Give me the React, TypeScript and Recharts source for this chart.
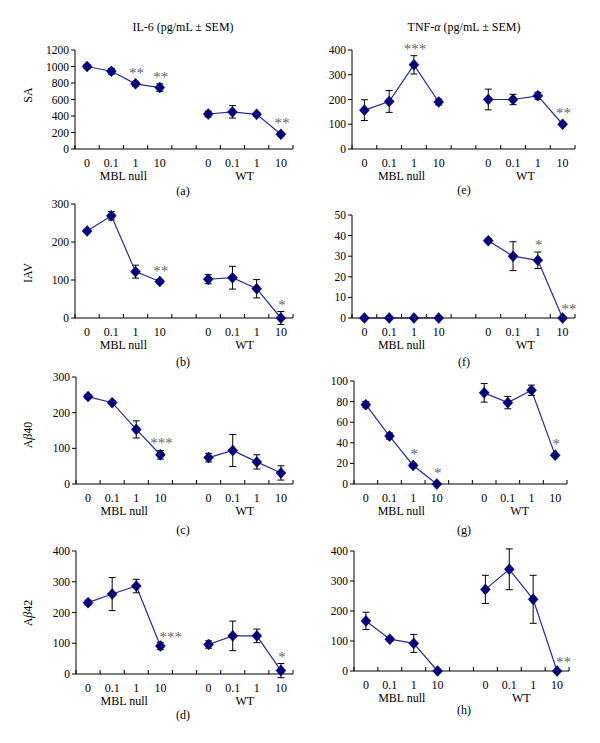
import React from 'react';
import { LineChart, Line, XAxis, YAxis, ReferenceLine } from 'recharts';

const FONT = '"Liberation Serif", "Times New Roman", serif';

// categories
const doses = ['0', '0.1', '1', '10'];
const groups = ['MBL null', 'WT'];
const panelLetters = ['(a)', '(b)', '(c)', '(d)', '(e)', '(f)', '(g)', '(h)'];

// IL-6 panels (pg/mL): MBL null 0,0.1,1,10 then WT 0,0.1,1,10
const il6SA = [1000, 942, 790, 745, 424, 450, 420, 178];
const il6SAErr = [25, 35, 30, 45, 35, 75, 20, 20];
const il6SASig = ['', '', '**', '**', '', '', '', '**'];

const il6IAV = [229, 269, 122, 96, 102, 106, 77, 0];
const il6IAVErr = [5, 11, 17, 5, 12, 30, 24, 17];
const il6IAVSig = ['', '', '', '**', '', '', '', '*'];

const il6Ab40 = [245, 228, 153, 82, 74, 94, 62, 31];
const il6Ab40Err = [6, 5, 24, 12, 12, 45, 20, 20];
const il6Ab40Sig = ['', '', '', '***', '', '', '', ''];

const il6Ab42 = [232, 260, 286, 91, 96, 124, 124, 11];
const il6Ab42Err = [8, 54, 22, 12, 12, 48, 22, 23];
const il6Ab42Sig = ['', '', '', '***', '', '', '', '*'];

// TNF-alpha panels
const tnfSA = [157, 192, 340, 190, 200, 200, 215, 100];
const tnfSAErr = [42, 44, 37, 12, 42, 21, 14, 6];
const tnfSASig = ['', '', '***', '', '', '', '', '**'];

const tnfIAV = [0, 0, 0, 0, 37.5, 30, 28, 0];
const tnfIAVErr = [0, 0, 0, 0, 1, 7, 4, 0];
const tnfIAVSig = ['', '', '', '', '', '', '*', '**'];

const tnfAb40 = [77, 46.5, 18, 0, 88.5, 79, 91, 28];
const tnfAb40Err = [3, 3, 2, 0, 9, 6, 5, 1];
const tnfAb40Sig = ['', '', '*', '*', '', '', '', '*'];

const tnfAb42 = [167, 106, 92, 0, 272, 339, 239, 0];
const tnfAb42Err = [29, 6, 30, 0, 47, 68, 80, 0];
const tnfAb42Sig = ['', '', '', '', '', '', '', '**'];

// panel layout (pixel boxes of plot areas)
const layout = [
  { values: il6SA, errs: il6SAErr, sigs: il6SASig, sigRight: [] as number[], left: 75, right: 293, top: 50, bottom: 149, yMax: 1200, yStep: 200, letterY: 191 },
  { values: il6IAV, errs: il6IAVErr, sigs: il6IAVSig, sigRight: [] as number[], left: 75, right: 293, top: 204, bottom: 318, yMax: 300, yStep: 100, letterY: 362 },
  { values: il6Ab40, errs: il6Ab40Err, sigs: il6Ab40Sig, sigRight: [] as number[], left: 76, right: 293, top: 377, bottom: 484, yMax: 300, yStep: 100, letterY: 530 },
  { values: il6Ab42, errs: il6Ab42Err, sigs: il6Ab42Sig, sigRight: [3], left: 76, right: 293, top: 551, bottom: 674, yMax: 400, yStep: 100, letterY: 715 },
  { values: tnfSA, errs: tnfSAErr, sigs: tnfSASig, sigRight: [] as number[], left: 352, right: 575, top: 50, bottom: 149, yMax: 400, yStep: 100, letterY: 190 },
  { values: tnfIAV, errs: tnfIAVErr, sigs: tnfIAVSig, sigRight: [7], left: 352, right: 575, top: 215, bottom: 318, yMax: 50, yStep: 10, letterY: 362 },
  { values: tnfAb40, errs: tnfAb40Err, sigs: tnfAb40Sig, sigRight: [] as number[], left: 354, right: 567, top: 381, bottom: 484, yMax: 100, yStep: 20, letterY: 530 },
  { values: tnfAb42, errs: tnfAb42Err, sigs: tnfAb42Sig, sigRight: [7], left: 354, right: 569, top: 551, bottom: 671, yMax: 400, yStep: 100, letterY: 710 },
];

const boundaryTicks = [0, 1, 2, 3, 4, 5, 6, 7, 8, 9];
const doseTicks = [0.5, 1.5, 2.5, 3.5, 5.5, 6.5, 7.5, 8.5];
const groupTicks = [2, 7];

function buildRows(values: number[], errs: number[], sigs: string[]) {
  const rows: any[] = [];
  for (let i = 0; i < 4; i++) rows.push({ x: i + 0.5, v: values[i], err: errs[i], sig: sigs[i], idx: i });
  rows.push({ x: 4.5, v: null, err: null, sig: '', idx: -1 });
  for (let i = 4; i < 8; i++) rows.push({ x: i + 1.5, v: values[i], err: errs[i], sig: sigs[i], idx: i });
  return rows;
}

function Panel(props: any) {
  const { values, errs, sigs, sigRight, left, right, top, bottom, yMax, yStep } = props;
  const data = buildRows(values, errs, sigs);
  const plotW = right - left;
  const plotH = bottom - top;
  const ML = 50, MT = 10, MR = 14, MB = 45;
  const W = ML + plotW + MR;
  const H = MT + plotH + 3 + MB;
  const yTicks: number[] = [];
  for (let t = 0; t <= yMax + 1e-9; t += yStep) yTicks.push(t);

  // pixel sizes converted to data units so that the library scales place them
  const capHalf = 3.5 / (plotW / 9);
  const tickLen = (4 * yMax) / plotH;

  const renderDot = (p: any) => {
    const { cx, cy, payload, index } = p;
    if (cx == null || cy == null || payload == null || payload.v == null) return <g key={`d${index}`} />;
    const pts = `${cx},${cy - 5.5} ${cx + 5},${cy} ${cx},${cy + 5.5} ${cx - 5},${cy}`;
    let star: any = null;
    if (payload.sig) {
      const isRight = sigRight.indexOf(payload.idx) >= 0;
      if (isRight) {
        star = (
          <text x={cx - 1} y={cy - 11 + 7} textAnchor="start" fontSize={15} fontFamily={FONT} fill="#666">
            {payload.sig}
          </text>
        );
      } else {
        const errTop = cy - ((payload.err || 0) * plotH) / yMax;
        const c = Math.min(cy - 13, errTop - 9);
        star = (
          <text x={cx + 1} y={c + 7} textAnchor="middle" fontSize={15} fontFamily={FONT} fill="#666">
            {payload.sig}
          </text>
        );
      }
    }
    return (
      <g key={`d${index}`}>
        <polygon points={pts} fill="#00007a" stroke="#00007a" strokeWidth={0.5} />
        {star}
      </g>
    );
  };

  const doseTick = (p: any) => {
    const i = doseTicks.indexOf(p.payload.value);
    return (
      <text key={`t${p.index}`} x={p.x} y={p.y + 11.5} textAnchor="middle" dominantBaseline="central" fontSize={12} fontFamily={FONT} fill="#000">
        {i >= 0 ? doses[i % 4] : ''}
      </text>
    );
  };
  const groupTick = (p: any) => {
    const i = groupTicks.indexOf(p.payload.value);
    return (
      <text key={`g${p.index}`} x={p.x} y={p.y + 25.5} textAnchor="middle" dominantBaseline="central" fontSize={12} fontFamily={FONT} fill="#000">
        {i >= 0 ? groups[i] : ''}
      </text>
    );
  };

  const errLines: any[] = [];
  data.forEach((r: any, k: number) => {
    if (r.v == null || !r.err) return;
    const lo = r.v - r.err;
    const hi = r.v + r.err;
    errLines.push(
      <ReferenceLine key={`ev${k}`} xAxisId="b" ifOverflow="visible" stroke="#000" strokeWidth={1}
        segment={[{ x: r.x, y: lo }, { x: r.x, y: hi }]} />,
      <ReferenceLine key={`et${k}`} xAxisId="b" ifOverflow="visible" stroke="#000" strokeWidth={1}
        segment={[{ x: r.x - capHalf, y: hi }, { x: r.x + capHalf, y: hi }]} />,
      <ReferenceLine key={`eb${k}`} xAxisId="b" ifOverflow="visible" stroke="#000" strokeWidth={1}
        segment={[{ x: r.x - capHalf, y: lo }, { x: r.x + capHalf, y: lo }]} />
    );
  });

  return (
    <div style={{ position: 'absolute', left: left - ML, top: top - MT, width: W, height: H }}>
      <LineChart width={W} height={H} data={data} margin={{ top: MT, right: MR, bottom: MB, left: 5 }}>
        <XAxis
          xAxisId="b"
          dataKey="x"
          type="number"
          domain={[0, 9]}
          ticks={boundaryTicks}
          interval={0}
          height={1}
          tick={false}
          tickLine={false}
          axisLine={{ stroke: '#000', strokeWidth: 1 }}
        />
        <XAxis
          xAxisId="l"
          dataKey="x"
          type="number"
          domain={[0, 9]}
          ticks={doseTicks}
          height={1}
          axisLine={false}
          tickLine={false}
          tickSize={0}
          tickMargin={0}
          tick={doseTick}
          interval={0}
        />
        <XAxis
          xAxisId="g"
          dataKey="x"
          type="number"
          domain={[0, 9]}
          ticks={groupTicks}
          height={1}
          axisLine={false}
          tickLine={false}
          tickSize={0}
          tickMargin={0}
          tick={groupTick}
          interval={0}
        />
        <YAxis
          type="number"
          domain={[0, yMax]}
          ticks={yTicks}
          width={45}
          interval={0}
          tickSize={4}
          tickMargin={2}
          stroke="#000"
          axisLine={{ stroke: '#000', strokeWidth: 1 }}
          tickLine={{ stroke: '#000', strokeWidth: 1 }}
          tick={{ fontSize: 11.5, fontFamily: FONT, fill: '#000' }}
        />
        {boundaryTicks.map((b) => (
          <ReferenceLine key={`bt${b}`} xAxisId="b" ifOverflow="visible" stroke="#000" strokeWidth={1}
            segment={[{ x: b, y: 0 }, { x: b, y: tickLen }]} />
        ))}
        {errLines}
        <Line
          xAxisId="b"
          dataKey="v"
          stroke="#2a2a9c"
          strokeWidth={1.2}
          isAnimationActive={false}
          connectNulls={false}
          dot={renderDot}
          activeDot={false}
        />
      </LineChart>
    </div>
  );
}

const abs = (x: number, y: number, rot = false): React.CSSProperties => ({
  position: 'absolute',
  left: x,
  top: y,
  transform: rot ? 'translate(-50%, -50%) rotate(-90deg)' : 'translate(-50%, -50%)',
  whiteSpace: 'nowrap',
  lineHeight: 1,
  fontFamily: FONT,
  color: '#000',
});

export default function App() {
  return (
    <div style={{ position: 'absolute', left: 0, top: 0, width: 600, height: 743, background: '#fff', overflow: 'hidden' }}>
      <div style={{ ...abs(183, 27), fontSize: 12 }}>IL-6 (pg/mL ± SEM)</div>
      <div style={{ ...abs(464, 27), fontSize: 12 }}>
        TNF-<i>α</i> (pg/mL ± SEM)
      </div>
      <div style={{ ...abs(28, 95, true), fontSize: 12 }}>SA</div>
      <div style={{ ...abs(28, 273, true), fontSize: 12 }}>IAV</div>
      <div style={{ ...abs(28, 435, true), fontSize: 12 }}>
        A<i>β</i>40
      </div>
      <div style={{ ...abs(28, 613, true), fontSize: 12 }}>
        A<i>β</i>42
      </div>
      {layout.map((p, i) => (
        <Panel key={i} {...p} />
      ))}
      {layout.map((p, i) => (
        <div key={`l${i}`} style={{ ...abs(i < 4 ? 183 : 464, p.letterY), fontSize: 12 }}>
          {panelLetters[i]}
        </div>
      ))}
    </div>
  );
}
